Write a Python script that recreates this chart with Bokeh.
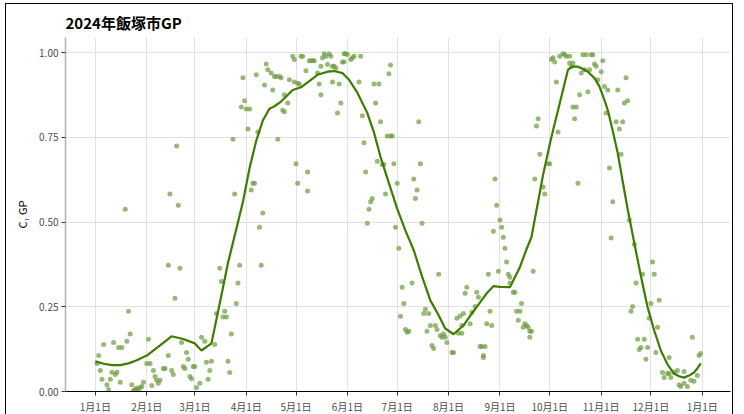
import pandas as pd
from bokeh.plotting import figure
from bokeh.models import Range1d, FixedTicker, CustomJSTickFormatter, NumeralTickFormatter, ColumnDataSource
from bokeh.embed import file_html
from bokeh.resources import INLINE

# ---- data ----
title_text = "2024年飯塚市GP"
y_label = "C\u2081 GP"
base_date = "2024-01-01"

# observed daily GP (day offset from 1 Jan 2024, value)
obs_doy = [1, 2, 3, 4, 5, 7, 8, 9, 10, 11, 12, 13, 14, 15, 16, 18, 19, 20, 21, 22,
           23, 24, 25, 26, 27, 28, 29, 31, 32, 33, 34, 35, 36, 37, 38, 39, 41, 42, 44, 44,
           45, 46, 47, 48, 49, 50, 51, 52, 53, 54, 55, 56, 57, 58, 59, 60, 61, 63, 64, 66,
           67, 68, 69, 70, 72, 73, 75, 76, 77, 78, 79, 80, 81, 82, 83, 84, 85, 86, 87, 88,
           89, 90, 91, 92, 93, 94, 95, 96, 97, 98, 99, 100, 101, 102, 103, 104, 106, 107, 108, 109,
           110, 111, 112, 113, 114, 114, 116, 117, 119, 120, 120, 121, 122, 122, 123, 124, 125, 127, 128, 128,
           129, 130, 131, 132, 134, 135, 136, 136, 137, 138, 139, 140, 141, 142, 143, 143, 144, 145, 146, 147,
           148, 149, 150, 150, 151, 152, 154, 155, 156, 159, 160, 161, 162, 163, 164, 165, 166, 167, 168, 169,
           170, 171, 172, 173, 174, 175, 176, 177, 178, 178, 179, 180, 181, 182, 183, 184, 185, 186, 187, 188,
           189, 191, 192, 193, 194, 195, 196, 197, 198, 199, 200, 201, 202, 203, 204, 205, 206, 207, 208, 209,
           210, 211, 212, 215, 216, 218, 219, 220, 221, 221, 222, 223, 224, 226, 227, 229, 230, 231, 232, 233,
           234, 234, 235, 236, 237, 238, 239, 240, 241, 242, 243, 244, 245, 246, 247, 248, 249, 250, 250, 252,
           253, 254, 255, 256, 257, 258, 259, 260, 261, 262, 262, 263, 264, 265, 266, 267, 268, 270, 271, 273,
           274, 275, 276, 277, 278, 279, 280, 282, 283, 284, 286, 286, 287, 288, 288, 289, 290, 291, 292, 293,
           294, 295, 296, 297, 298, 299, 300, 301, 302, 303, 305, 306, 307, 308, 309, 310, 311, 312, 314, 315,
           316, 317, 318, 319, 320, 321, 322, 323, 324, 325, 326, 327, 328, 329, 330, 331, 332, 333, 334, 335,
           336, 337, 338, 339, 340, 342, 343, 345, 346, 346, 347, 349, 351, 352, 353, 355, 355, 357, 359, 360,
           361, 363, 364, 365]
obs_gp = [0.083, 0.106, 0.062, 0.036, 0.139, 0.020, 0.006, 0.036, 0.057, 0.145, 0.050, 0.057, 0.130, 0.027, 0.130, 0.538, 0.148, 0.237, 0.170, 0.020,
          0.003, 0.006, 0.010, 0.005, 0.012, 0.015, 0.027, 0.083, 0.154, 0.083, 0.018, 0.062, 0.044, 0.033, 0.024, 0.033, 0.068, 0.068, 0.106, 0.373,
          0.583, 0.062, 0.050, 0.275, 0.725, 0.550, 0.364, 0.145, 0.074, 0.068, 0.115, 0.095, 0.044, 0.038, 0.074, 0.074, 0.012, 0.024, 0.160, 0.148,
          0.086, 0.036, 0.062, 0.089, 0.139, 0.230, 0.364, 0.325, 0.220, 0.237, 0.220, 0.089, 0.056, 0.170, 0.745, 0.583, 0.260, 0.320, 0.373, 0.840,
          0.926, 0.858, 0.834, 0.775, 0.834, 0.595, 0.615, 0.615, 0.935, 0.766, 0.485, 0.373, 0.527, 0.905, 0.967, 0.950, 0.940, 0.890, 0.930, 0.930,
          0.745, 0.930, 0.926, 0.830, 0.826, 0.876, 0.852, 0.920, 0.990, 0.980, 0.914, 0.672, 0.910, 0.615, 0.908, 0.990, 0.990, 0.947, 0.648, 0.592,
          0.976, 0.976, 0.976, 0.976, 0.940, 0.908, 0.876, 0.960, 0.985, 0.997, 0.990, 0.965, 0.997, 0.990, 0.960, 0.914, 0.960, 0.955, 0.822, 0.908,
          0.852, 0.973, 0.973, 0.997, 0.997, 0.995, 0.980, 0.985, 0.990, 0.914, 0.990, 0.814, 0.734, 0.648, 0.497, 0.538, 0.560, 0.570, 0.908, 0.852,
          0.680, 0.908, 0.796, 0.670, 0.670, 0.583, 0.754, 0.938, 0.964, 0.754, 0.754, 0.672, 0.485, 0.615, 0.423, 0.222, 0.308, 0.260, 0.183, 0.175,
          0.178, 0.320, 0.627, 0.570, 0.595, 0.796, 0.672, 0.497, 0.230, 0.243, 0.178, 0.230, 0.195, 0.136, 0.127, 0.195, 0.183, 0.346, 0.165, 0.160,
          0.170, 0.160, 0.145, 0.115, 0.115, 0.216, 0.172, 0.223, 0.172, 0.195, 0.230, 0.290, 0.308, 0.200, 0.234, 0.251, 0.293, 0.278, 0.133, 0.133,
          0.106, 0.100, 0.133, 0.200, 0.346, 0.237, 0.195, 0.473, 0.627, 0.550, 0.355, 0.506, 0.485, 0.455, 0.423, 0.382, 0.346, 0.337, 0.320, 0.293,
          0.293, 0.237, 0.210, 0.237, 0.260, 0.190, 0.200, 0.195, 0.190, 0.178, 0.160, 0.178, 0.355, 0.627, 0.784, 0.805, 0.700, 0.604, 0.583, 0.672,
          0.672, 0.980, 0.985, 0.973, 0.914, 0.766, 0.990, 0.997, 0.995, 0.990, 0.990, 0.970, 0.960, 0.970, 0.840, 0.805, 0.840, 0.615, 0.876, 0.940,
          0.994, 0.950, 0.994, 0.885, 0.950, 0.994, 0.994, 0.967, 0.960, 0.920, 0.944, 0.976, 0.900, 0.822, 0.890, 0.660, 0.453, 0.560, 0.796, 0.890,
          0.775, 0.700, 0.796, 0.852, 0.926, 0.858, 0.506, 0.237, 0.251, 0.435, 0.320, 0.154, 0.124, 0.130, 0.346, 0.154, 0.095, 0.130, 0.216, 0.260,
          0.382, 0.346, 0.115, 0.190, 0.269, 0.056, 0.041, 0.053, 0.053, 0.100, 0.041, 0.056, 0.062, 0.020, 0.015, 0.024, 0.059, 0.015, 0.033, 0.160,
          0.030, 0.047, 0.106, 0.112]

# smoothed GP curve
fit_doy = [0, 5, 10, 15, 20, 25, 31, 39, 46, 53, 60, 64, 70, 75, 80, 85, 89, 93, 97, 101,
           105, 108, 112, 119, 124, 130, 134, 140, 144, 149, 153, 158, 164, 168, 172, 177, 182, 187, 192, 197,
           202, 207, 211, 216, 222, 227, 232, 236, 240, 244, 250, 256, 260, 263, 266, 270, 275, 279, 282, 285,
           288, 291, 294, 297, 301, 304, 307, 309, 312, 315, 318, 321, 325, 329, 333, 337, 341, 345, 349, 352,
           355, 358, 361, 363, 365]
fit_gp = [0.089, 0.082, 0.078, 0.078, 0.083, 0.092, 0.106, 0.136, 0.163, 0.155, 0.142, 0.121, 0.142, 0.260, 0.380, 0.480, 0.560, 0.660, 0.740, 0.800,
          0.835, 0.842, 0.856, 0.890, 0.898, 0.920, 0.935, 0.944, 0.946, 0.940, 0.920, 0.882, 0.822, 0.765, 0.692, 0.615, 0.540, 0.475, 0.417, 0.340,
          0.269, 0.225, 0.186, 0.169, 0.195, 0.230, 0.263, 0.290, 0.311, 0.309, 0.308, 0.367, 0.420, 0.456, 0.535, 0.640, 0.751, 0.830, 0.890, 0.950,
          0.960, 0.959, 0.952, 0.944, 0.925, 0.900, 0.860, 0.831, 0.770, 0.704, 0.620, 0.538, 0.438, 0.340, 0.249, 0.180, 0.121, 0.080, 0.053, 0.045,
          0.041, 0.047, 0.056, 0.068, 0.083]

tick_dates = ["2024-01-01", "2024-02-01", "2024-03-01", "2024-04-01", "2024-05-01", "2024-06-01", "2024-07-01",
              "2024-08-01", "2024-09-01", "2024-10-01", "2024-11-01", "2024-12-01", "2025-01-01"]
y_ticks = [0.0, 0.25, 0.5, 0.75, 1.0]

# ---- build ----
base = pd.Timestamp(base_date)
obs = ColumnDataSource(dict(date=base + pd.to_timedelta(obs_doy, unit="D"), gp=obs_gp))
fit = ColumnDataSource(dict(date=base + pd.to_timedelta(fit_doy, unit="D"), gp=fit_gp))

FONT = "Noto Sans CJK JP"

p = figure(frame_width=665, frame_height=354, x_axis_type="datetime",
           x_range=Range1d(pd.Timestamp("2023-12-14"), pd.Timestamp("2025-01-18")),
           y_range=Range1d(0, 1.045),
           output_backend="svg", toolbar_location=None,
           min_border_left=59, min_border_right=2, min_border_top=33, min_border_bottom=18,
           background_fill_color="white", border_fill_color="white")
p.styles = {"border": "1px solid black", "margin-left": "5px", "margin-top": "3px"}
p.outline_line_color = None

p.title.text = title_text
p.title.text_font = FONT
p.title.text_font_size = "15px"
p.title.text_font_style = "bold"
p.title.align = "left"
p.title.text_color = "black"

p.scatter("date", "gp", source=obs, size=5, fill_color="#6f9c42", fill_alpha=0.72, line_color=None)
p.line("date", "gp", source=fit, line_color="#3c7d00", line_width=2.2)

tick_ms = [pd.Timestamp(d).value // 10**6 for d in tick_dates]
p.xaxis.ticker = FixedTicker(ticks=tick_ms)
p.xaxis.formatter = CustomJSTickFormatter(code="""
const d = new Date(tick);
return (d.getUTCMonth() + 1) + "月" + d.getUTCDate() + "日";
""")
p.yaxis.ticker = FixedTicker(ticks=y_ticks)
p.yaxis.formatter = NumeralTickFormatter(format="0.00")

for ax in (p.xaxis[0], p.yaxis[0]):
    ax.major_label_text_font = FONT
    ax.major_label_text_font_size = "10px"
    ax.major_label_text_color = "#4d4d4d"
    ax.major_tick_line_color = "#333333"
    ax.major_tick_in = 0
    ax.major_tick_out = 4
    ax.minor_tick_line_color = None
    ax.major_label_standoff = 3

p.xaxis.axis_line_color = "black"
p.yaxis.axis_line_color = "#b0b0b0"
p.yaxis.axis_line_width = 1.5
p.yaxis.axis_label = y_label
p.yaxis.axis_label_text_font = FONT
p.yaxis.axis_label_text_font_size = "11px"
p.yaxis.axis_label_text_font_style = "normal"
p.yaxis.axis_label_text_color = "black"
p.yaxis.axis_label_standoff = 6

p.xgrid.grid_line_color = "#e2e2e2"
p.ygrid.grid_line_color = "#e2e2e2"
p.xgrid.grid_line_width = 1
p.ygrid.grid_line_width = 1

open("out.html", "w").write(file_html(p, INLINE))
